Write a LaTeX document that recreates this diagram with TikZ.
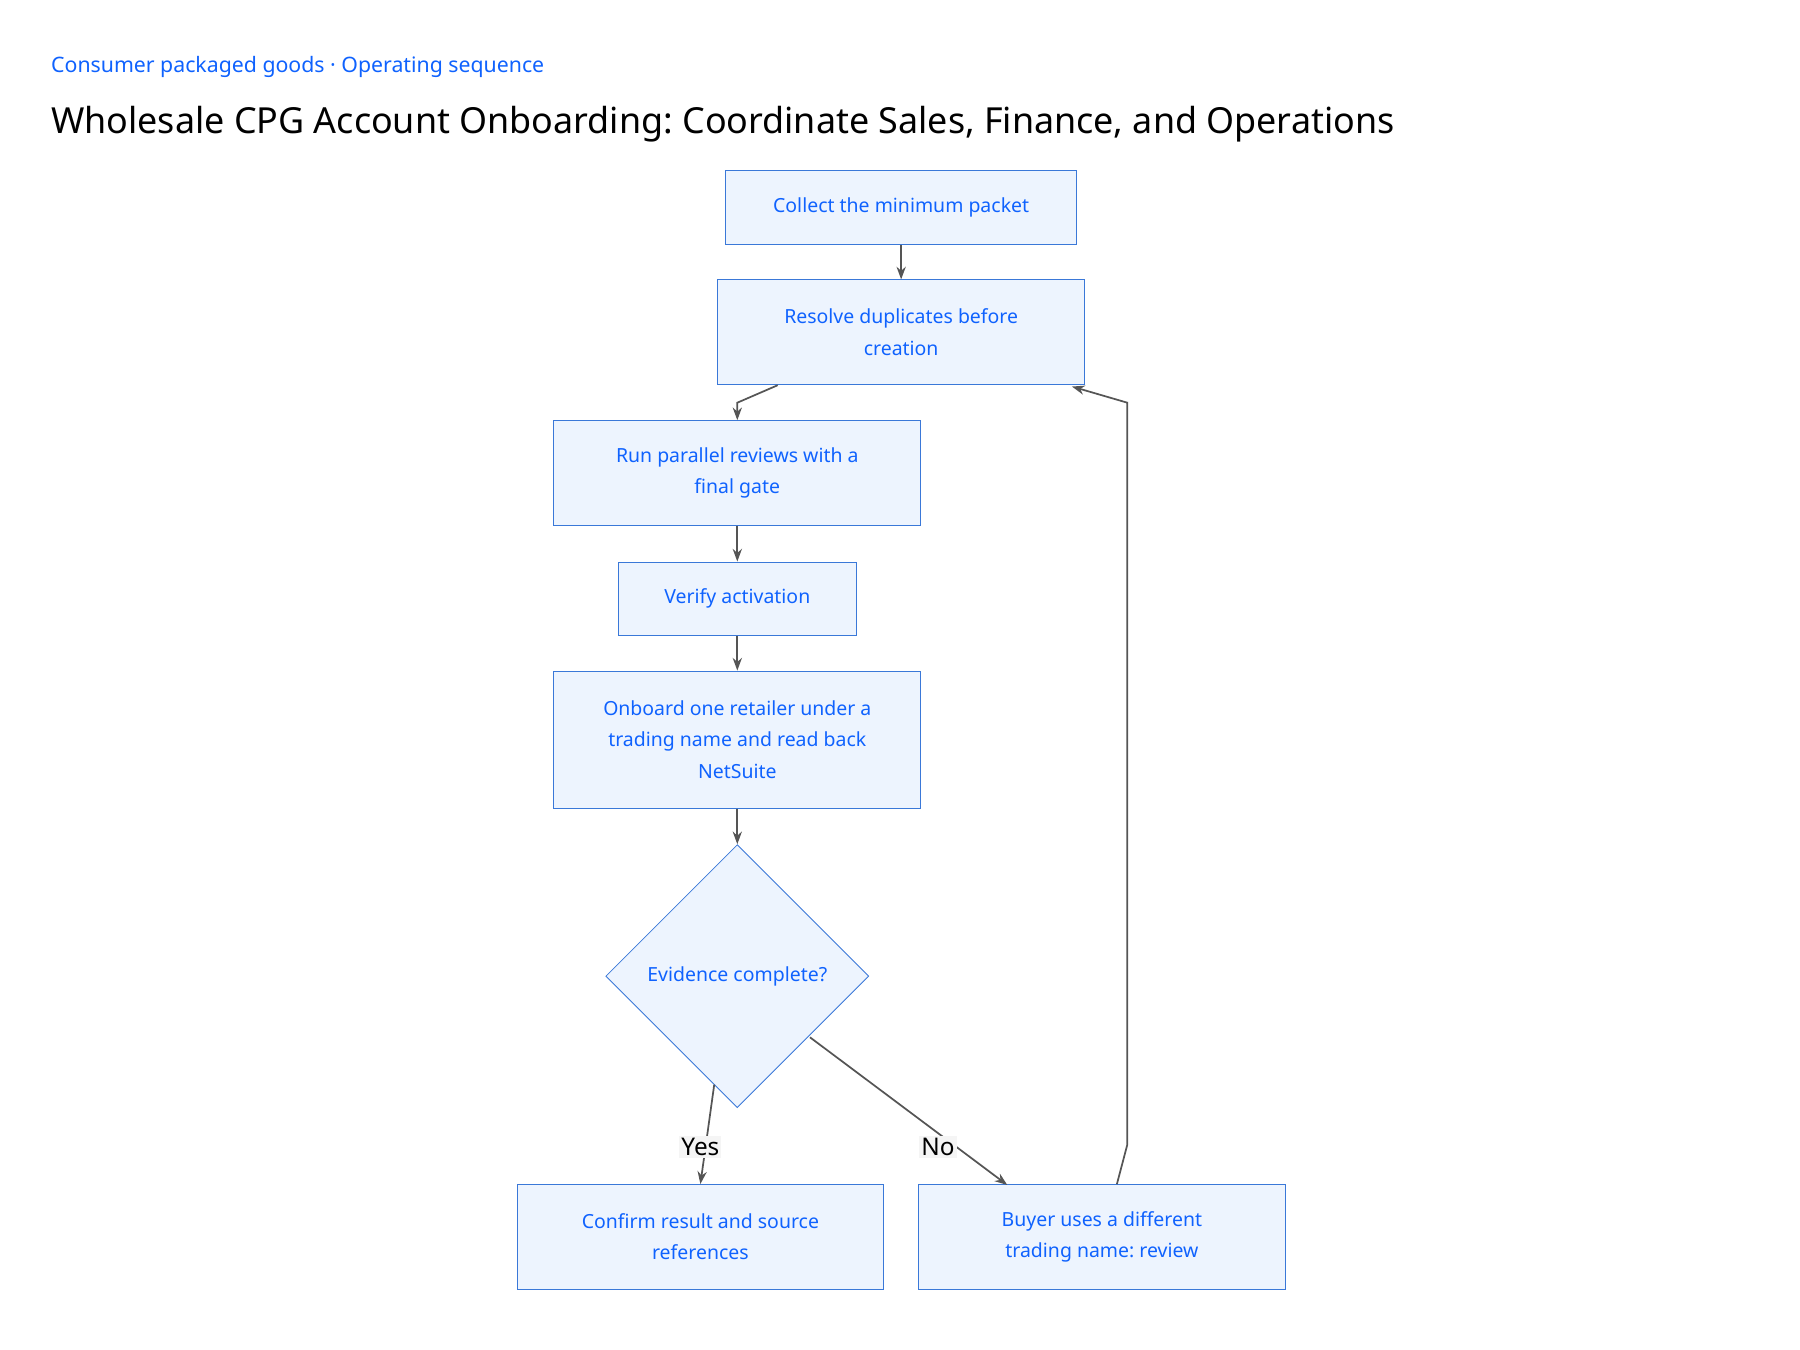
\documentclass[tikz,border=0pt]{standalone}
\usepackage{fontspec}
\setmainfont{Noto Sans}
\frenchspacing
\usetikzlibrary{arrows.meta,calc,positioning,shapes.geometric}
\definecolor{stepblue}{HTML}{0F62FE}
\definecolor{stepline}{HTML}{3A78D8}
\definecolor{stepfill}{HTML}{EDF4FE}
\definecolor{flowgray}{HTML}{555555}
\tikzset{
        base/.style={draw=stepline, fill=stepfill, align=center, text=stepblue,
                     font=\fontsize{9.6}{15.5}\selectfont, inner sep=2pt},
        proc/.style={base, rectangle, minimum width=6.36cm, minimum height=1.82cm},
        slim/.style={base, rectangle, minimum height=1.28cm},
        test/.style={base, diamond, minimum width=4.56cm, minimum height=4.56cm},
        myarrow/.style={-{Stealth[length=2.2mm,width=1.6mm]}, draw=flowgray, line width=0.3mm},
        answer/.style={fill=gray!8, inner sep=1pt, font=\fontsize{12}{14}\selectfont},
}
\begin{document}
\begin{tikzpicture}[x=0.02cm, y=-0.02cm]
    \useasboundingbox (0,0) rectangle (1560,1170);
    \node[anchor=west, inner sep=0pt, text=stepblue, font=\fontsize{10.5}{12}\selectfont] (kicker) at (44,58)
        {Consumer packaged goods · Operating sequence};
    \node[anchor=west, inner sep=0pt, font=\fontsize{17.7}{20}\selectfont] (title) at (44,108)
        {Wholesale CPG Account Onboarding: Coordinate Sales, Finance, and Operations};

    \node[slim, minimum width=6.08cm] (collect) at (781,180) {Collect the minimum packet};
    \node[proc] (resolve) at (781,288) {Resolve duplicates before\\creation};
    \node[proc] (parallel) at (639,410) {Run parallel reviews with a\\final gate};
    \node[slim, minimum width=4.12cm] (verify) at (639,519) {Verify activation};
    \node[proc, minimum height=2.38cm] (onboard) at (639,641)
        {Onboard one retailer under a\\trading name and read back\\NetSuite};
    \node[test] (evidence) at (639,846) {Evidence complete?};
    \node[proc] (confirm) at (607,1072) {Confirm result and source\\references};
    \node[proc] (buyer) at (955,1072) {Buyer uses a different\\trading name: review};

    \draw[myarrow] (collect) -- (resolve);
    \draw[myarrow] (resolve.south -| 674,0) -- (639,349) -- (parallel.north);
    \draw[myarrow] (parallel) -- (verify);
    \draw[myarrow] (verify) -- (onboard);
    \draw[myarrow] (onboard) -- (evidence);
    \draw[myarrow] (619,940) -- (confirm.north);
    \node[answer] (yes) at (607,994) {Yes};
    \draw[myarrow] (702,899) -- (873,1027);
    \node[answer] (no) at (813,994) {No};
    \draw[myarrow] (buyer.north -| 968,0) -- (977,992) -- (977,349) -- (929,335);
\end{tikzpicture}
\end{document}
